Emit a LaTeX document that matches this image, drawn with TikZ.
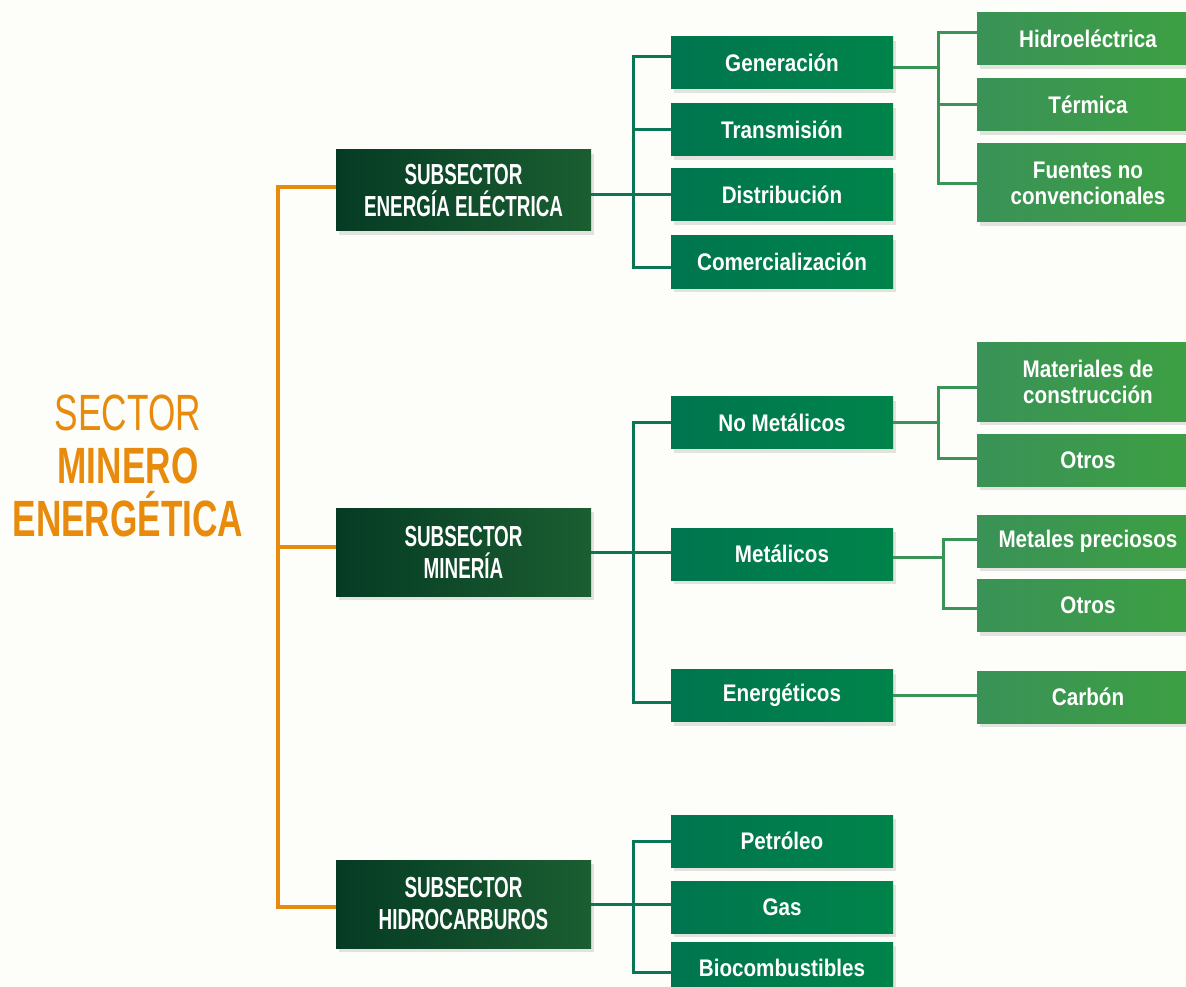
\documentclass[tikz,border=0pt]{standalone}
\usepackage{fontspec}
\setmainfont{Liberation Sans}
\newfontfamily\titlefont[FakeStretch=0.69]{Liberation Sans}
\newfontfamily\capsfont[FakeStretch=0.65]{Liberation Sans}
\newfontfamily\boxfont[FakeStretch=0.86]{Liberation Sans}
\usepackage{xcolor}
\definecolor{paper}{HTML}{FDFDF9}
\definecolor{sectororange}{HTML}{E88A0C}
\definecolor{darkA}{HTML}{053B24}
\definecolor{darkB}{HTML}{1B5E31}
\definecolor{midA}{HTML}{00754F}
\definecolor{midB}{HTML}{00844A}
\definecolor{lightA}{HTML}{3A9257}
\definecolor{lightB}{HTML}{3DA042}
\definecolor{tealline}{HTML}{0B7656}
\definecolor{greenline}{HTML}{3A9457}
\definecolor{shade}{HTML}{E2E2DE}
\usetikzlibrary{shadows}

\begin{document}
\begin{tikzpicture}[x=1pt, y=-1pt,
  every node/.style={text=white, inner sep=0pt},
  box/.style={minimum width=222pt, minimum height=52pt, align=center,
    drop shadow={shadow xshift=3pt, shadow yshift=-4pt, fill=shade, opacity=1},
    font=\boxfont\bfseries\fontsize{24}{26}\selectfont},
  subbox/.style={box, minimum width=255pt, minimum height=88pt, left color=darkA, right color=darkB,
    font=\capsfont\bfseries\fontsize{29}{32}\selectfont},
  midbox/.style={box, left color=midA, right color=midB},
  leafbox/.style={box, left color=lightA, right color=lightB},
  orangeline/.style={draw=sectororange, line width=4pt},
  tealwire/.style={draw=tealline, line width=3pt},
  greenwire/.style={draw=greenline, line width=3pt}]
  \useasboundingbox (0,0) rectangle (1186,987);
  \clip (0,0) rectangle (1186,987);
  \fill[paper] (0,0) rectangle (1186,987);

  % Sector title
  \node[text=sectororange, align=center, font=\titlefont\fontsize{51}{53}\selectfont] (sector) at (128,466)
    {SECTOR\\\textbf{MINERO}\\\textbf{ENERGÉTICA}};

  % Subsectors
  \node[subbox, minimum height=81pt] (elec) at (463.5,190.5) {SUBSECTOR\\ENERGÍA ELÉCTRICA};
  \node[subbox] (mine) at (463.5,552) {SUBSECTOR\\MINERÍA};
  \node[subbox] (hydro) at (463.5,904) {SUBSECTOR\\HIDROCARBUROS};

  % Second level
  \node[midbox] (gen) at (782,63) {Generación};
  \node[midbox] (trans) at (782,130) {Transmisión};
  \node[midbox] (dist) at (782,195) {Distribución};
  \node[midbox] (comer) at (782,262) {Comercialización};
  \node[midbox] (nomet) at (782,422.5) {No Metálicos};
  \node[midbox] (metal) at (782,554) {Metálicos};
  \node[midbox] (energ) at (782,695.5) {Energéticos};
  \node[midbox] (petro) at (782,841) {Petróleo};
  \node[midbox] (gas) at (782,907) {Gas};
  \node[midbox] (bio) at (782,968) {Biocombustibles};

  % Third level
  \node[leafbox] (hydroel) at (1088,39) {Hidroeléctrica};
  \node[leafbox] (term) at (1088,105) {Térmica};
  \node[leafbox, minimum height=78pt] (fuentes) at (1088,183) {Fuentes no\\convencionales};
  \node[leafbox, minimum height=79pt] (mater) at (1088,381.5) {Materiales de\\construcción};
  \node[leafbox] (otrosA) at (1088,460) {Otros};
  \node[leafbox] (precious) at (1088,541) {Metales preciosos};
  \node[leafbox] (otrosB) at (1088,605.5) {Otros};
  \node[leafbox] (carbon) at (1088,697) {Carbón};

  % Bus points
  \coordinate (trunk) at (278,547);
  \coordinate (busE) at (633,130);
  \coordinate (busM) at (633,552);
  \coordinate (busH) at (633,904);
  \coordinate (busG) at (938,105);
  \coordinate (busN) at (938,421);
  \coordinate (busX) at (943,557);

  % Sector to subsectors
  \draw[orangeline] ([yshift=3.5pt]elec.west) -| (trunk) |- ([yshift=-3pt]hydro.west);
  \draw[orangeline] (trunk) -- ([yshift=5pt]mine.west);

  % Subsectors to second level
  \draw[tealwire] ([yshift=6pt]gen.west) -| (busE) |- ([yshift=-5pt]comer.west);
  \draw[tealwire] (busE) -- (trans.west);
  \draw[tealwire] (dist.west) -- (dist.west -| elec.east);
  \draw[tealwire] (nomet.west) -| (busM) |- ([yshift=-6.5pt]energ.west);
  \draw[tealwire] (mine.east) -- (mine.east -| metal.west);
  \draw[tealwire] (petro.west) -| (busH) |- ([yshift=-4pt]bio.west);
  \draw[tealwire] (hydro.east) -- (hydro.east -| gas.west);

  % Second level to third level
  \draw[greenwire] ([yshift=6pt]hydroel.west) -| (busG) |- ([yshift=-1pt]fuentes.west);
  \draw[greenwire] (term.west) -- (term.west -| busG);
  \draw[greenwire] ([yshift=-5pt]gen.east) -- ([yshift=-5pt]gen.east -| busG);
  \draw[greenwire] ([yshift=-5.5pt]mater.west) -| (busN) |- ([yshift=2pt]otrosA.west);
  \draw[greenwire] (nomet.east) -- (nomet.east -| busN);
  \draw[greenwire] ([yshift=2pt]precious.west) -| (busX) |- ([yshift=-2.5pt]otrosB.west);
  \draw[greenwire] ([yshift=-3pt]metal.east) -- ([yshift=-3pt]metal.east -| busX);
  \draw[greenwire] (energ.east) -- (energ.east -| carbon.west);
\end{tikzpicture}
\end{document}
